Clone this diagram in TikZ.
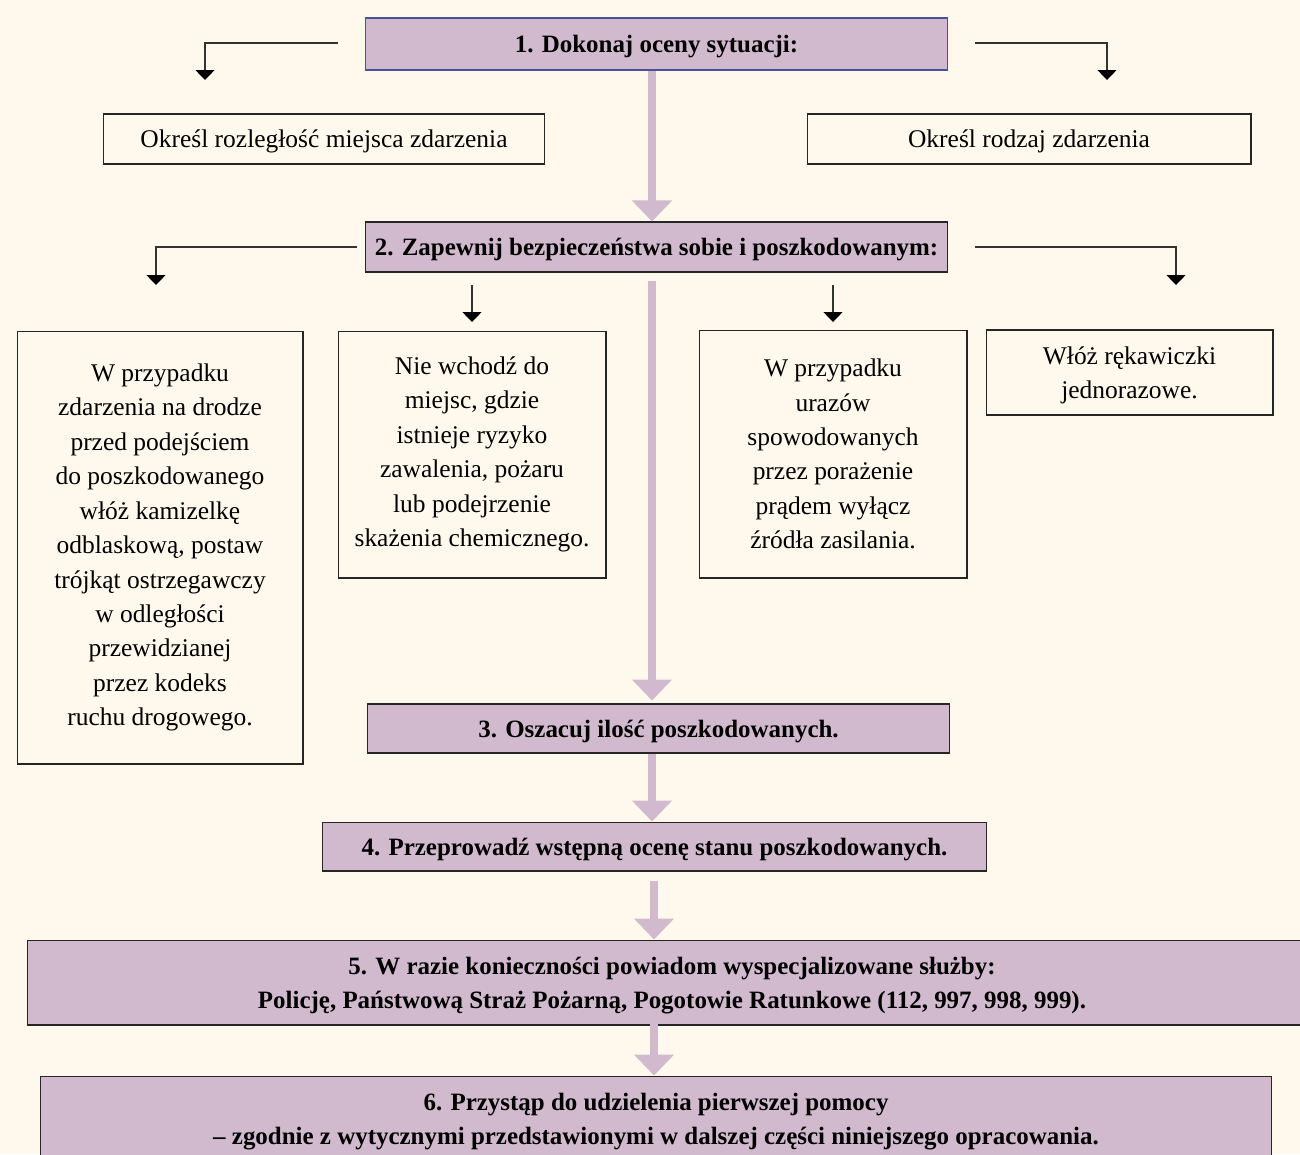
\documentclass[tikz,border=0pt]{standalone}
\usepackage{fontspec}
\setmainfont{Liberation Serif}
\usetikzlibrary{arrows.meta,positioning,calc}
\definecolor{cream}{RGB}{255,248,236}
\definecolor{lilac}{RGB}{210,186,206}
\definecolor{navyedge}{RGB}{74,79,156}

\begin{document}
\begin{tikzpicture}[x=0.02cm,y=-0.02cm,
    every node/.style={font=\fontsize{14.5}{19.6}\selectfont, inner sep=0pt, align=center},
    oneline/.style={text height=13pt},
    twoline/.style={text height=33pt},
    stepbox/.style={draw=black!85, fill=lilac, line width=0.6pt, font=\fontsize{14.2}{19.6}\selectfont\bfseries},
    infobox/.style={draw=black!85, line width=0.6pt},
    conn/.style={black!80, line width=0.75pt, -{Triangle[width=0.38cm,length=0.2cm,fill=black,color=black]}},
    bigarrow/.style={lilac, line width=0.16cm, -{Triangle[width=0.78cm,length=0.42cm]}}]
        % Page
        \useasboundingbox (0,0) rectangle (1300,1154);
        \fill[cream] (0,0) rectangle (1300,1154);

        % Step 1 and its two tasks
        \node[stepbox, oneline, draw=navyedge, minimum width=11.66cm, minimum height=1.04cm] (b1) at (656.5,44) {1. Dokonaj oceny sytuacji:};
        \node[infobox, oneline, minimum width=8.84cm, minimum height=1cm] (rozl) at (324,139) {Określ rozległość miejsca zdarzenia};
        \node[infobox, oneline, minimum width=8.88cm, minimum height=1cm] (rodz) at (1029,139) {Określ rodzaj zdarzenia};

        % Step 2 and its four tasks
        \node[stepbox, oneline, minimum width=11.66cm, minimum height=1cm] (b2) at (656.5,247) {2. Zapewnij bezpieczeństwa sobie i poszkodowanym:};
        \node[infobox, minimum width=5.72cm, minimum height=8.66cm] (droga) at (160,547.5) {W przypadku\\zdarzenia na drodze\\przed podejściem\\do poszkodowanego\\włóż kamizelkę\\odblaskową, postaw\\trójkąt ostrzegawczy\\w odległości\\przewidzianej\\przez kodeks\\ruchu drogowego.};
        \node[infobox, minimum width=5.36cm, minimum height=4.94cm] (ryzyko) at (472,454.5) {Nie wchodź do\\miejsc, gdzie\\istnieje ryzyko\\zawalenia, pożaru\\lub podejrzenie\\skażenia chemicznego.};
        \node[infobox, minimum width=5.36cm, minimum height=4.96cm] (prad) at (833,454) {W przypadku\\urazów\\spowodowanych\\przez porażenie\\prądem wyłącz\\źródła zasilania.};
        \node[infobox, twoline, minimum width=5.74cm, minimum height=1.7cm] (rekaw) at (1129.5,372.5) {Włóż rękawiczki\\jednorazowe.};

        % Steps 3 to 6
        \node[stepbox, oneline, minimum width=11.66cm, minimum height=0.98cm] (b3) at (658.5,728.5) {3. Oszacuj ilość poszkodowanych.};
        \node[stepbox, oneline, minimum width=13.3cm, minimum height=0.98cm] (b4) at (654.5,846.5) {4. Przeprowadź wstępną ocenę stanu poszkodowanych.};
        \node[stepbox, twoline, minimum width=25.8cm, minimum height=1.7cm] (b5) at (672,982.5) {5. W razie konieczności powiadom wyspecjalizowane służby:\\Policję, Państwową Straż Pożarną, Pogotowie Ratunkowe (112, 997, 998, 999).};
        \node[stepbox, twoline, minimum width=24.64cm, minimum height=1.7cm] (b6) at (656,1118.5) {6. Przystąp do udzielenia pierwszej pomocy\\– zgodnie z wytycznymi przedstawionymi w dalszej części niniejszego opracowania.};

        % Thin connectors
        \coordinate (s1l) at (338,43);  \coordinate (t1l) at (205,80);
        \coordinate (s1r) at (975,43);  \coordinate (t1r) at (1107,80);
        \coordinate (s2l) at (357,247); \coordinate (t2l) at (156,285);
        \coordinate (s2r) at (975,247); \coordinate (t2r) at (1176,285);
        \coordinate (s2a) at (472,285); \coordinate (t2a) at (472,322);
        \coordinate (s2b) at (833,285); \coordinate (t2b) at (833,322);
        \draw[conn] (s1l) -| (t1l);
        \draw[conn] (s1r) -| (t1r);
        \draw[conn] (s2l) -| (t2l);
        \draw[conn] (s2r) -| (t2r);
        \draw[conn] (s2a) -- (t2a);
        \draw[conn] (s2b) -- (t2b);

        % Main flow
        \coordinate (axis) at (652,0);
        \coordinate (axisb) at (654,0);
        \coordinate (k5) at (654,1014);
        \draw[bigarrow] (b1.south -| axis) -- (b2.north -| axis);
        \draw[bigarrow, shorten <=0.16cm, shorten >=0.06cm] (b2.south -| axis) -- (b3.north -| axis);
        \draw[bigarrow] (b3.south -| axis) -- (b4.north -| axis);
        \draw[bigarrow, shorten <=0.18cm] (b4.south -| axisb) -- (b5.north -| axisb);
        \draw[bigarrow] (k5) -- (b6.north -| axisb);
    \end{tikzpicture}
\end{document}
